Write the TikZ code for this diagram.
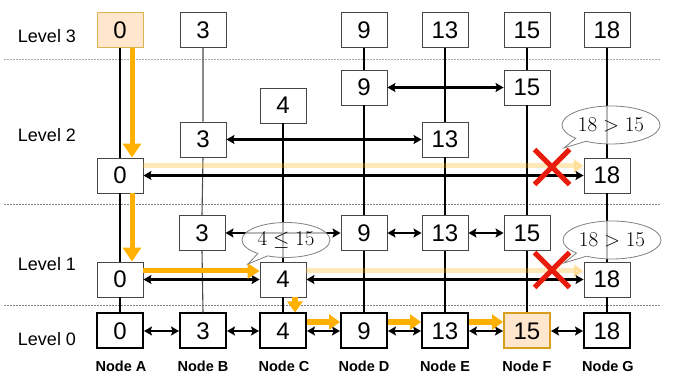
\RequirePackage{fix-cm}
\documentclass[tikz,border=0pt]{standalone}
\usepackage[no-math]{fontspec}
\setmainfont{Liberation Sans}
\usetikzlibrary{arrows.meta,shapes.callouts,shapes.misc}

\definecolor{hlfill}{RGB}{255,230,204}
\definecolor{hldraw}{RGB}{218,178,80}
\definecolor{hldrawzero}{RGB}{214,160,30}
\definecolor{routeorange}{RGB}{255,176,0}
\definecolor{crossred}{RGB}{232,28,10}
\definecolor{boxline}{RGB}{70,70,70}

\tikzset{
  keybox/.style={draw=boxline, line width=0.9pt, fill=white, minimum width=46pt,
    minimum height=35pt, inner sep=0pt, font=\fontsize{24}{24}\selectfont},
  keyzero/.style={keybox, draw=black, line width=2pt},
  hit/.style={fill=hlfill, draw=hldraw},
  hitzero/.style={fill=hlfill, draw=hldrawzero},
  tower/.style={line width=1.6pt},
  thintower/.style={line width=1.1pt, draw=black!70},
  link/.style={line width=2.2pt,
    {Stealth[length=8pt,width=9pt,inset=1.5pt]}-{Stealth[length=8pt,width=9pt,inset=1.5pt]}},
  route/.style={draw=routeorange, line width=5pt, -{Triangle[length=14pt,width=18pt]}},
  shortroute/.style={draw=routeorange, line width=6pt, -{Triangle[length=11pt,width=15pt]}},
  faded/.style={draw=routeorange, line width=5pt, opacity=0.28,
    -{Triangle[length=10pt,width=14pt]}},
  nope/.style={cross out, draw=crossred, line width=5pt, minimum size=30pt, inner sep=0pt},
  note/.style={ellipse callout, draw=gray, line width=0.8pt, fill=white, fill opacity=0.72,
    text opacity=1, minimum width=98pt, minimum height=38pt, inner sep=0pt,
    font=\fontsize{21}{21}\selectfont},
  levelname/.style={font=\fontsize{18}{18}\selectfont},
  owner/.style={font=\bfseries\fontsize{14.5}{14.5}\selectfont},
  divider/.style={draw=gray, line width=0.7pt, dash pattern=on 1.5pt off 1.5pt},
}

\begin{document}
\begin{tikzpicture}[x=1pt,y=-1pt]
\useasboundingbox (0,0) rectangle (673,374);

% level separators
\coordinate (s3l) at (4,59);   \coordinate (s3r) at (660,59);
\coordinate (s2l) at (4,204);  \coordinate (s2r) at (660,204);
\coordinate (s1l) at (4,305);  \coordinate (s1r) at (660,305);
\draw[divider, draw=gray!70] (s3l) -- (s3r);
\draw[divider] (s2l) -- (s2r);
\draw[divider] (s1l) -- (s1r);

% level names
\node[levelname] (lv3) at (47,36) {Level 3};
\node[levelname] (lv2) at (47,135) {Level 2};
\node[levelname] (lv1) at (47,264) {Level 1};
\node[levelname] (lv0) at (47,339) {Level 0};

% level 3
\node[keybox,hit] (a3) at (120,30) {0};
\node[keybox] (b3) at (203,30) {3};
\node[keybox] (d3) at (364,30) {9};
\node[keybox] (e3) at (445,30) {13};
\node[keybox] (f3) at (527,30) {15};
\node[keybox] (g3) at (607,30) {18};

% level 2
\node[keybox] (d2) at (364,87.5) {9};
\node[keybox] (f2) at (527,87.5) {15};
\node[keybox] (c2) at (283,105.5) {4};
\node[keybox] (b2) at (203,139.5) {3};
\node[keybox] (e2) at (445,139.5) {13};
\node[keybox] (a2) at (120,175.5) {0};
\node[keybox] (g2) at (607,175.5) {18};

% level 1
\node[keybox] (b1) at (202,233) {3};
\node[keybox] (d1) at (364,233) {9};
\node[keybox] (e1) at (445,233) {13};
\node[keybox] (f1) at (527,233) {15};
\node[keybox] (a1) at (120,279.5) {0};
\node[keybox] (c1) at (283,279.5) {4};
\node[keybox] (g1) at (607,279.5) {18};

% level 0
\node[keyzero] (a0) at (120,331) {0};
\node[keyzero] (b0) at (203,331) {3};
\node[keyzero] (c0) at (283,331) {4};
\node[keyzero] (d0) at (364,331) {9};
\node[keyzero] (e0) at (445,331) {13};
\node[keyzero,hitzero] (f0) at (527,331) {15};
\node[keyzero] (g0) at (607,331) {18};

% node names
\node[owner] (na) at (121,366.5) {Node A};
\node[owner] (nb) at (203,366) {Node B};
\node[owner] (nc) at (284,366) {Node C};
\node[owner] (nd) at (364,366) {Node D};
\node[owner] (ne) at (445,366) {Node E};
\node[owner] (nf) at (527,366) {Node F};
\node[owner] (ng) at (608,366) {Node G};

% towers
\draw[tower] (a3.south) -- (a2.north) (a2.south) -- (a1.north) (a1.south) -- (a0.north);
\draw[thintower] (b3.south) -- (b2.north) (b2.south) -- (b1.north) (b1.south) -- (b0.north);
\draw[tower] (c2.south) -- (c1.north) (c1.south) -- (c0.north);
\draw[tower] (d3.south) -- (d2.north) (d2.south) -- (d1.north) (d1.south) -- (d0.north);
\draw[tower] (e3.south) -- (e2.north) (e2.south) -- (e1.north) (e1.south) -- (e0.north);
\draw[tower] (f3.south) -- (f2.north) (f2.south) -- (f1.north) (f1.south) -- (f0.north);
\draw[tower] (g3.south) -- (g2.north) (g2.south) -- (g1.north) (g1.south) -- (g0.north);

% list links
\draw[link] (d2) -- (f2);
\draw[link] (b2) -- (e2);
\draw[link] (a2) -- (g2);
\draw[link] (b1) -- (d1);
\draw[link] (d1) -- (e1);
\draw[link] (e1) -- (f1);
\draw[link] (a1) -- (c1);
\draw[link] (c1) -- (g1);
\draw[link] (a0) -- (b0);
\draw[link] (b0) -- (c0);
\draw[link] (c0) -- (d0);
\draw[link] (d0) -- (e0);
\draw[link] (e0) -- (f0);
\draw[link] (f0) -- (g0);

% rejected moves
\draw[faded] ([yshift=9.5pt]a2.east) -- ([yshift=9.5pt]g2.west);
\draw[faded] ([yshift=8.5pt]c1.east) -- ([yshift=8.5pt]g1.west);

% search route
\draw[route] ([xshift=12pt]a3.south) -- ([xshift=12pt]a2.north);
\draw[route] ([xshift=12pt]a2.south) -- ([xshift=12pt]a1.north);
\draw[route, -{Triangle[length=12pt,width=15pt]}] ([yshift=8.5pt]a1.east) -- ([yshift=8.5pt]c1.west);
\draw[shortroute] ([xshift=12pt]c1.south) -- ([xshift=12pt]c0.north);
\draw[shortroute] ([yshift=9pt]c0.east) -- ([yshift=9pt]d0.west);
\draw[shortroute] ([yshift=9pt]d0.east) -- ([yshift=9pt]e0.west);
\draw[shortroute] ([yshift=9pt]e0.east) -- ([yshift=9pt]f0.west);

% stops
\node[nope] (x2) at (552,167) {};
\node[nope] (x1) at (552,270) {};

% comparisons
\node[note, callout absolute pointer={(564,148)}] (q2) at (611,125) {$18 > 15$};
\node[note, callout absolute pointer={(564,263)}] (q1) at (612,240) {$18 > 15$};
\node[note, minimum width=88pt, minimum height=35pt, callout absolute pointer={(248,264)}] (q0) at (286,240) {$4 \leq 15$};
\end{tikzpicture}
\end{document}
